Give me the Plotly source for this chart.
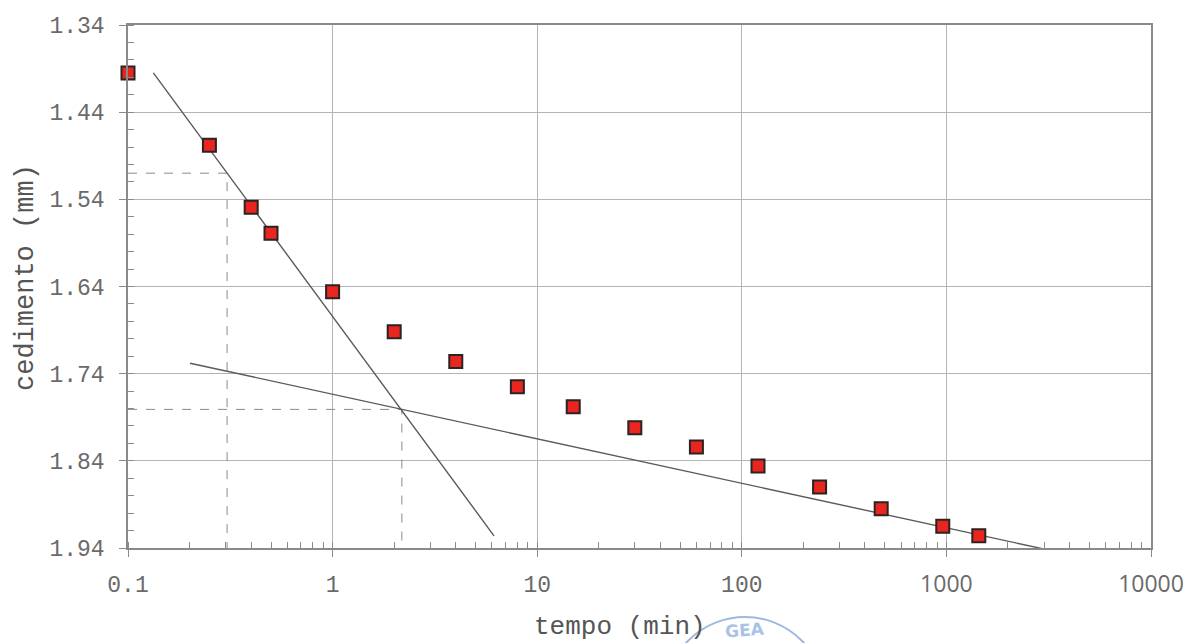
import plotly.graph_objects as go

# ---- data ----
tempo = [0.1, 0.25, 0.4, 0.5, 1, 2, 4, 8, 15, 30, 60, 120, 240, 480, 960, 1440]
cedimento = [1.395, 1.478, 1.549, 1.579, 1.646, 1.692, 1.726, 1.755, 1.778,
             1.802, 1.824, 1.846, 1.870, 1.895, 1.915, 1.926]

steep_x = [0.133, 6.15]
steep_y = [1.395, 1.926]
flat_x = [0.201, 3510]
flat_y = [1.728, 1.9447]

inter_t = 2.18
inter_s = 1.781
d0_t = 0.305
d0_s = 1.510

x_tickvals = [0.1, 1, 10, 100, 1000, 10000]
x_ticktext = ["0.1", "1", "10", "100",
              '<span style="font-family:Open Sans">1000</span>',
              '<span style="font-family:Open Sans">10000</span>']
y_tickvals = [1.34, 1.44, 1.54, 1.64, 1.74, 1.84, 1.94]
y_ticktext = ["1.34", "1.44", "1.54", "1.64", "1.74", "1.84", "1.94"]
y_min, y_max = 1.34, 1.94
x_min = 0.1

MONO = "Liberation Mono, Courier New, monospace"

# page has an 8px body margin: plot area should land at x 128..1151, y 25..548
PW, PH = 1189, 635
ML, MR, MT, MB = 120, 46, 17, 95
PLOT_W = PW - ML - MR
PLOT_H = PH - MT - MB


def px_x(px):
    return (px - 128) / PLOT_W


def px_y(py):
    return (548 - py) / PLOT_H


fig = go.Figure()

# dashed construction lines
dash_style = dict(color="#8a8a8a", width=1, dash="dash")
fig.add_trace(go.Scatter(x=[x_min, inter_t, inter_t], y=[inter_s, inter_s, y_max],
                         mode="lines", line=dash_style, hoverinfo="skip", showlegend=False))
fig.add_trace(go.Scatter(x=[x_min, d0_t, d0_t], y=[d0_s, d0_s, y_max],
                         mode="lines", line=dash_style, hoverinfo="skip", showlegend=False))

# tangent lines
line_style = dict(color="#5a5a5a", width=1.4)
fig.add_trace(go.Scatter(x=steep_x, y=steep_y, mode="lines", line=line_style,
                         hoverinfo="skip", showlegend=False))
fig.add_trace(go.Scatter(x=flat_x, y=flat_y, mode="lines", line=line_style,
                         hoverinfo="skip", showlegend=False))

# measured points
fig.add_trace(go.Scatter(
    x=tempo, y=cedimento, mode="markers", cliponaxis=False, showlegend=False,
    marker=dict(symbol="square", size=13, color="#e8261f",
                line=dict(color="#2b2222", width=2)),
))

axis_common = dict(
    showgrid=True, gridcolor="#b4b4b4", gridwidth=1,
    showline=True, linecolor="#8a8a8a", linewidth=1.5, mirror=True,
    ticks="outside", ticklen=7, tickcolor="#8a8a8a", tickwidth=1.2,
    tickfont=dict(family=MONO, size=23, color="#6a6a6a"),
    zeroline=False, automargin=False,
)

fig.update_xaxes(
    type="log", range=[-1, 4],
    tickvals=x_tickvals, ticktext=x_ticktext,
    minor=dict(ticks="inside", ticklen=6, tickcolor="#8a8a8a", tickwidth=1.2,
               dtick="D1", showgrid=False),
    ticklabelstandoff=8,
    **axis_common,
)
fig.update_yaxes(
    range=[y_max, y_min],
    tickvals=y_tickvals, ticktext=y_ticktext,
    minor=dict(ticks="inside", ticklen=6, tickcolor="#8a8a8a", tickwidth=1.2,
               dtick=0.02, tick0=1.34, showgrid=False),
    ticklabelstandoff=10,
    **axis_common,
)

# axis titles placed where the reference has them
fig.add_annotation(text="tempo (min)", xref="paper", yref="paper",
                   x=px_x(620), y=px_y(627), xanchor="center", yanchor="middle",
                   showarrow=False, font=dict(family=MONO, size=26, color="#555555"))
fig.add_annotation(text="cedimento (mm)", xref="paper", yref="paper",
                   x=px_x(26), y=px_y(278), xanchor="center", yanchor="middle",
                   textangle=-90,
                   showarrow=False, font=dict(family=MONO, size=27, color="#555555"))

# faint stamp at the bottom (decorative)
fig.add_shape(type="circle", xref="paper", yref="paper",
              x0=px_x(665), x1=px_x(825), y0=px_y(777), y1=px_y(617),
              line=dict(color="#9fb8dd", width=2), layer="below")
fig.add_annotation(text="<b>GEA</b>", xref="paper", yref="paper",
                   x=px_x(745), y=px_y(630), xanchor="center", yanchor="middle",
                   showarrow=False, font=dict(family="DejaVu Sans", size=17, color="#a9c2e6"),
                   textangle=-4)

fig.update_layout(
    width=PW, height=PH,
    margin=dict(l=ML, r=MR, t=MT, b=MB),
    paper_bgcolor="white", plot_bgcolor="white",
)

fig.write_html("out.html")
